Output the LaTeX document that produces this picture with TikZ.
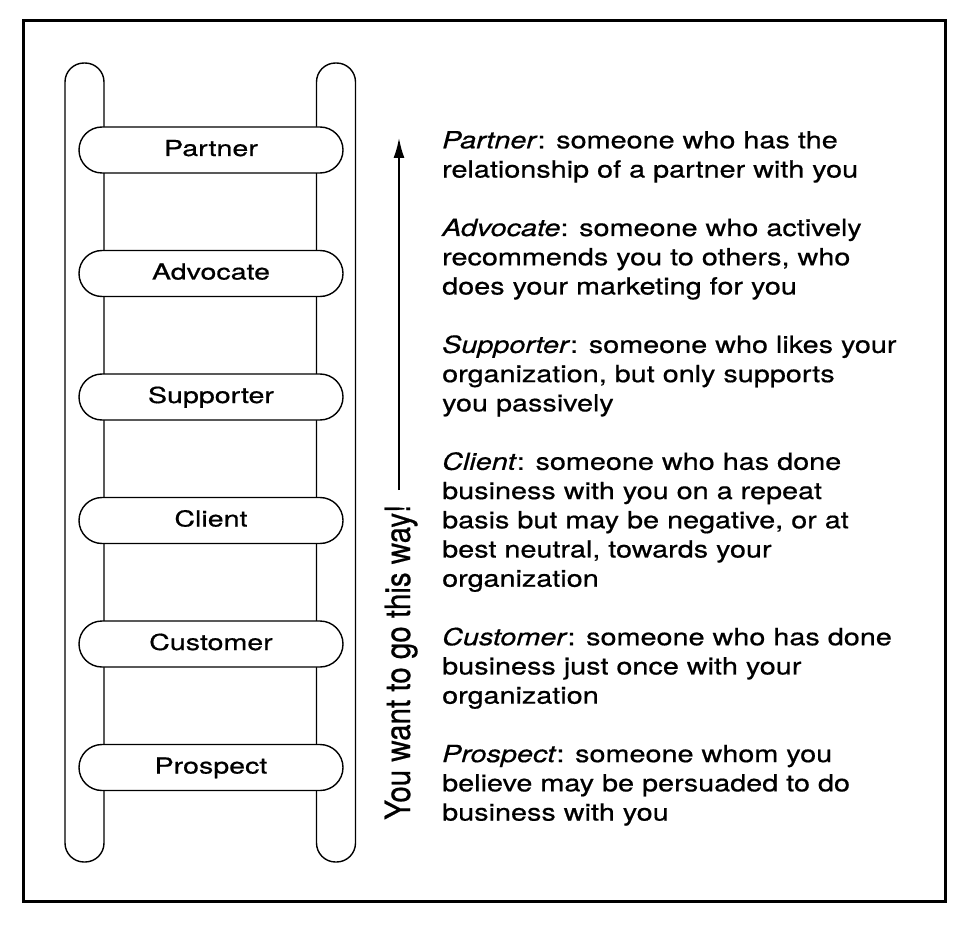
\documentclass[tikz,border=0pt]{standalone}
\usepackage{fontspec}
\setmainfont{TeX Gyre Heros}
\newfontfamily\descfont[FakeStretch=1.22,FakeBold=0.6]{TeX Gyre Heros}
\newfontfamily\rungfont[FakeStretch=1.30,FakeBold=0.6]{TeX Gyre Heros}
\newfontfamily\wayfont[FakeStretch=0.85,FakeBold=0.6]{TeX Gyre Heros}
\usetikzlibrary{arrows.meta}
\newcommand\defnblock[1]{\vtop{\descfont\fontsize{23.6pt}{29.23pt}\selectfont #1}}
\begin{document}
\begin{tikzpicture}[x=1pt,y=-1pt,
  frame/.style={line width=3pt},
  rail/.style={draw, line width=1.4pt, minimum width=39pt, minimum height=799pt, rounded corners=19pt, inner sep=0pt},
  rung/.style={draw, fill=white, line width=1.4pt, minimum width=264pt, minimum height=46pt, rounded corners=23pt, inner sep=0pt,
    font=\rungfont\fontsize{22pt}{24pt}\selectfont, text height=15.8pt, text depth=3.8pt},
  defn/.style={anchor=base west, inner sep=0pt},
  uparrow/.style={line width=1.8pt, -{Latex[length=20pt,width=11pt]}}
]
\useasboundingbox (0,0) rectangle (969,925);
\draw[frame] (23,21) rectangle (945,901);

% rails
\node[rail] (lrail) at (84.5,462.5) {};
\node[rail] (rrail) at (336,462.5) {};

% rungs
\node[rung] (partner)   at (211,150)   {Partner};
\node[rung] (advocate)  at (211,273.5) {Advocate};
\node[rung] (supporter) at (211,397)   {Supporter};
\node[rung] (client)    at (211,520.5) {Client};
\node[rung] (customer)  at (211,644)   {Customer};
\node[rung] (prospect)  at (211,767.5) {Prospect};

% arrow and label
\node[rotate=90, anchor=base west, inner sep=0pt] (way) at (410,820)
  {\wayfont\fontsize{34.7pt}{36pt}\selectfont You want to go this way!};
\coordinate (arrowtail) at (399,490);
\coordinate (arrowtip) at (399,138);
\draw[uparrow] (arrowtail) -- (arrowtip);

% definitions
\node[defn] (dpartner) at (442,148.3) {\defnblock{%
  \hbox{\textit{Partner}: someone who has the}%
  \hbox{relationship of a partner with you}}};
\node[defn] (dadvocate) at (442,236) {\defnblock{%
  \hbox{\textit{Advocate}: someone who actively}%
  \hbox{recommends you to others, who}%
  \hbox{does your marketing for you}}};
\node[defn] (dsupporter) at (442,352.9) {\defnblock{%
  \hbox{\textit{Supporter}: someone who likes your}%
  \hbox{organization, but only supports}%
  \hbox{you passively}}};
\node[defn] (dclient) at (442,469.8) {\defnblock{%
  \hbox{\textit{Client}: someone who has done}%
  \hbox{business with you on a repeat}%
  \hbox{basis but may be negative, or at}%
  \hbox{best neutral, towards your}%
  \hbox{organization}}};
\node[defn] (dcustomer) at (442,645.2) {\defnblock{%
  \hbox{\textit{Customer}: someone who has done}%
  \hbox{business just once with your}%
  \hbox{organization}}};
\node[defn] (dprospect) at (442,762.1) {\defnblock{%
  \hbox{\textit{Prospect}: someone whom you}%
  \hbox{believe may be persuaded to do}%
  \hbox{business with you}}};
\end{tikzpicture}
\end{document}
